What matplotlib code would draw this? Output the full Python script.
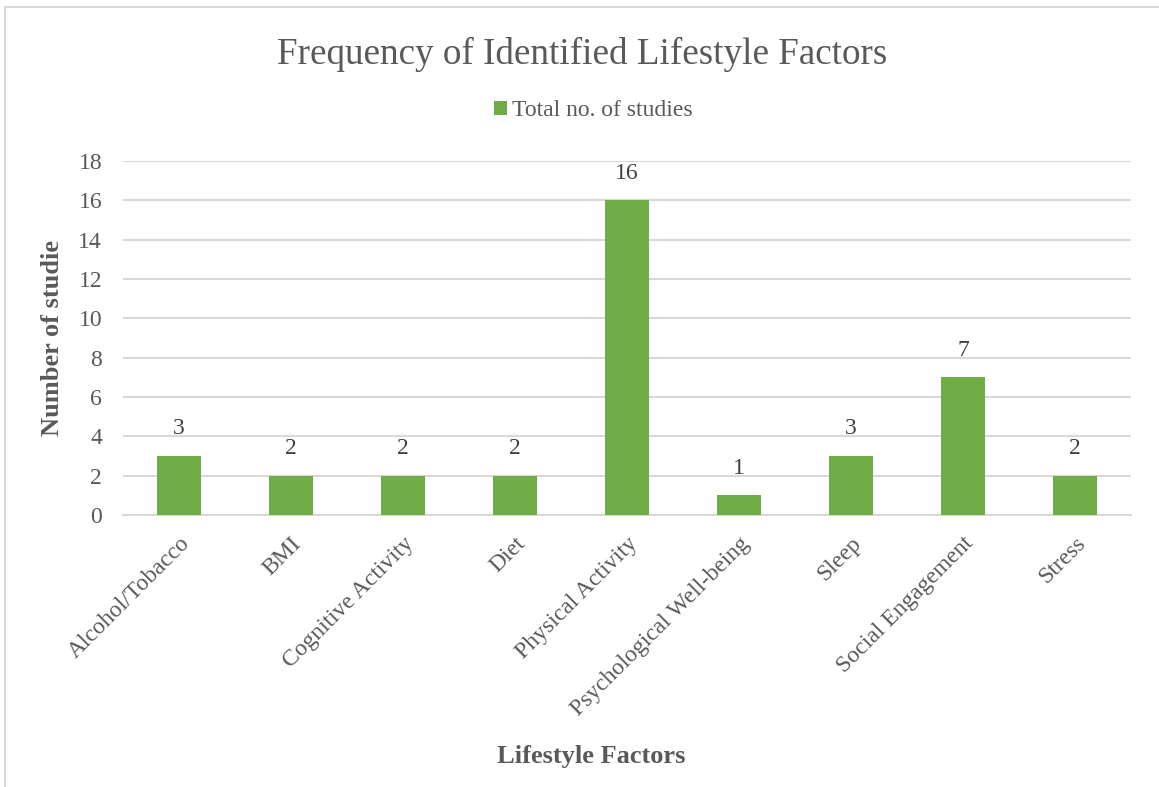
import matplotlib.pyplot as plt
import numpy as np
from matplotlib.patches import Rectangle

# === DATA ===
factors = ['Alcohol/Tobacco', 'BMI', 'Cognitive Activity', 'Diet', 'Physical Activity',
           'Psychological Well-being', 'Sleep', 'Social Engagement', 'Stress']
studies = [3, 2, 2, 2, 16, 1, 3, 7, 2]
y_ticks = [0, 2, 4, 6, 8, 10, 12, 14, 16, 18]

# === STYLE ===
plt.rcParams['font.family'] = ['Liberation Serif', 'DejaVu Serif']
text_col = '#595959'
bar_col = '#70AD47'
grid_col = '#D9D9D9'

fig = plt.figure(figsize=(11.59, 7.87), dpi=100)
ax = fig.add_axes([0.1061, 0.3456, 0.8697, 0.4498])

# chart border (like the Excel chart area)
fig.patches.append(Rectangle((5 / 1159, -0.01), 1.02, 1 - 7 / 787 + 0.01, transform=fig.transFigure,
                             fill=False, edgecolor=grid_col, linewidth=1.5))

x = np.arange(len(factors))
bars = ax.bar(x, studies, width=0.4, color=bar_col, label='Total no. of studies', zorder=3)

for xi, v in zip(x, studies):
    ax.annotate(str(v), (xi, v), xytext=(0, 12), textcoords='offset points',
                ha='center', va='bottom', fontsize=17, color='#404040')

ax.set_xlim(-0.5, len(factors) - 0.5)
ax.set_ylim(0, 18)
ax.set_yticks(y_ticks)
ax.yaxis.grid(True, color=grid_col, linewidth=1.5, zorder=0)
ax.set_axisbelow(True)
for s in ['top', 'right', 'left']:
    ax.spines[s].set_visible(False)
ax.spines['bottom'].set_color(grid_col)
ax.spines['bottom'].set_linewidth(1.5)
ax.tick_params(axis='both', length=0, labelsize=17, colors=text_col)
ax.tick_params(axis='y', pad=15)

ax.set_xticks(x)
ax.set_xticklabels(factors, rotation=45, ha='right', rotation_mode='anchor')
ax.tick_params(axis='x', pad=13)

ax.set_ylabel('Number of studie', fontsize=19, fontweight='bold', color=text_col, labelpad=10)
fig.text(591 / 1159, 1 - 757 / 787, 'Lifestyle Factors', ha='center', va='center',
         fontsize=19, fontweight='bold', color=text_col)

fig.text(582 / 1159, 1 - 54 / 787, 'Frequency of Identified Lifestyle Factors', ha='center',
         va='center', fontsize=26.7, color=text_col)

fig.legend(handles=[bars], loc='center', bbox_to_anchor=(593 / 1159, 1 - 111 / 787), frameon=False,
           fontsize=17, labelcolor=text_col, handlelength=0.55, handleheight=0.55, handletextpad=0.2)

plt.savefig('out.png', dpi=100)
